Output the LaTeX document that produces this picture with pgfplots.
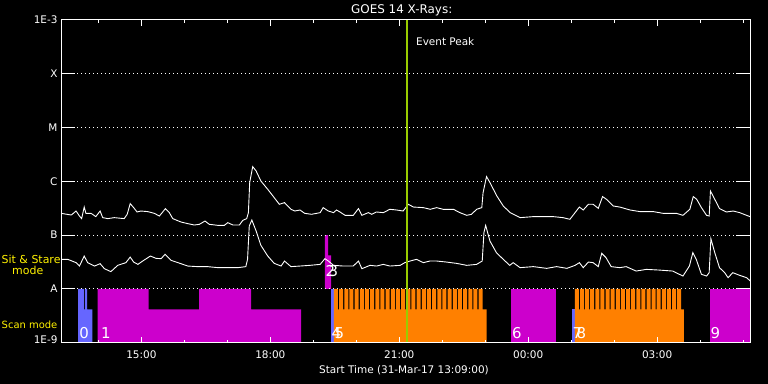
\documentclass[border=0pt]{standalone}
\usepackage{pgfplots}
\pgfplotsset{compat=1.18}
\usepackage{fontspec}
\setmainfont{DejaVu Sans}
\definecolor{obsblue}{RGB}{102,102,255}
\definecolor{obsmag}{RGB}{204,0,204}
\definecolor{obsorange}{RGB}{255,128,0}
\definecolor{peakgreen}{RGB}{153,204,0}
\begin{document}
\begin{tikzpicture}
\fill[black] (0,0) rectangle (768bp,384bp);
\useasboundingbox (0,0) rectangle (768bp,384bp);
\begin{axis}[
  at={(61bp,41.3bp)}, anchor=south west,
  width=689bp, height=323bp, scale only axis,
  xmin=13.13, xmax=29.16, ymin=-9, ymax=-3,
  axis line style={white, line width=1bp},
  xtick=\empty,
  ytick={-9,-8,-7,-6,-5,-4,-3},
  yticklabels={\raisebox{6bp}{1E-9},A\hspace{10bp},B\hspace{10bp},C\hspace{10bp},M\hspace{10bp},X\hspace{10bp},\raisebox{-6bp}{1E-3}},
  tick align=inside,
  major tick length=14bp,
  tick style={white, line width=1bp},
  ymajorgrids,
  grid style={white, line width=1bp, dash pattern=on 1bp off 3bp},
  ticklabel style={white, font=\fontsize{10.5}{12}\selectfont},
  axis on top,
  clip=true,
]
% observation blocks (scan mode band: -9..-8, sit & stare band: -8..-7)
\addplot[const plot, fill=obsblue, draw=none, mark=none] coordinates {
(13.528,-9)(13.528,-8)(13.667,-8.381)(13.691,-8)(13.737,-8.381)(13.860,-9)};
\addplot[const plot, fill=obsmag, draw=none, mark=none] coordinates {
(13.984,-9)(13.984,-8)(15.170,-8.381)(16.342,-8)(17.551,-8.381)(18.714,-9)};
\addplot[const plot, fill=obsmag, draw=none, mark=none] coordinates {
(19.272,-8)(19.272,-7)(19.342,-7.377)(19.412,-8)};
\addplot[fill=obsblue, draw=none, mark=none] coordinates {
(19.412,-9)(19.412,-8)(19.481,-8)(19.481,-9)};
\addplot[const plot, fill=obsorange, draw=none, mark=none] coordinates {
(19.481,-9)
(19.481,-8)(19.574,-8.381)(19.601,-8)(19.694,-8.381)(19.721,-8)(19.814,-8.381)
(19.842,-8)(19.935,-8.381)(19.962,-8)(20.055,-8.381)(20.082,-8)(20.175,-8.381)
(20.202,-8)(20.295,-8.381)(20.322,-8)(20.415,-8.381)(20.443,-8)(20.536,-8.381)
(20.563,-8)(20.656,-8.381)(20.683,-8)(20.776,-8.381)(20.803,-8)(20.896,-8.381)
(20.923,-8)(21.016,-8.381)(21.044,-8)(21.137,-8.381)(21.164,-8)(21.257,-8.381)
(21.284,-8)(21.377,-8.381)(21.404,-8)(21.497,-8.381)(21.524,-8)(21.617,-8.381)
(21.645,-8)(21.738,-8.381)(21.765,-8)(21.858,-8.381)(21.885,-8)(21.978,-8.381)
(22.005,-8)(22.098,-8.381)(22.125,-8)(22.218,-8.381)(22.246,-8)(22.339,-8.381)
(22.366,-8)(22.459,-8.381)(22.486,-8)(22.579,-8.381)(22.606,-8)(22.699,-8.381)
(22.726,-8)(22.819,-8.381)(22.847,-8)(22.940,-8.381)
(23.033,-9)};
\addplot[fill=obsmag, draw=none, mark=none] coordinates {
(23.597,-9)(23.597,-8)(24.644,-8)(24.644,-9)};
\addplot[fill=obsblue, draw=none, mark=none] coordinates {
(25.016,-9)(25.016,-8.381)(25.086,-8.381)(25.086,-9)};
\addplot[const plot, fill=obsorange, draw=none, mark=none] coordinates {
(25.086,-9)
(25.086,-8)(25.179,-8.381)(25.205,-8)(25.298,-8.381)(25.324,-8)(25.417,-8.381)
(25.443,-8)(25.536,-8.381)(25.562,-8)(25.655,-8.381)(25.681,-8)(25.774,-8.381)
(25.800,-8)(25.893,-8.381)(25.919,-8)(26.012,-8.381)(26.038,-8)(26.131,-8.381)
(26.157,-8)(26.250,-8.381)(26.276,-8)(26.369,-8.381)(26.395,-8)(26.488,-8.381)
(26.514,-8)(26.607,-8.381)(26.633,-8)(26.726,-8.381)(26.752,-8)(26.845,-8.381)
(26.871,-8)(26.964,-8.381)(26.990,-8)(27.083,-8.381)(27.109,-8)(27.202,-8.381)
(27.228,-8)(27.321,-8.381)(27.347,-8)(27.440,-8.381)(27.466,-8)(27.559,-8.381)
(27.621,-9)};
\addplot[fill=obsmag, draw=none, mark=none] coordinates {
(28.223,-9)(28.223,-8)(29.2,-8)(29.2,-9)};
% GOES long channel (1-8 A), log10 flux
\addplot[white, line width=0.9bp, mark=none] coordinates {
(13.13,-6.597)(13.37,-6.628)(13.48,-6.554)(13.56,-6.647)(13.61,-6.695)(13.67,-6.480)(13.71,-6.597)(13.83,-6.597)(13.94,-6.658)(14.04,-6.554)(14.10,-6.677)(14.22,-6.695)(14.37,-6.677)(14.60,-6.695)(14.67,-6.615)(14.74,-6.416)(14.82,-6.491)(14.90,-6.572)(14.99,-6.554)(15.15,-6.565)(15.30,-6.597)(15.42,-6.647)(15.56,-6.509)(15.65,-6.584)(15.73,-6.695)(15.92,-6.758)(16.08,-6.788)(16.23,-6.814)(16.35,-6.801)(16.48,-6.740)(16.58,-6.801)(16.78,-6.820)(16.93,-6.820)(17.01,-6.770)(17.13,-6.814)(17.28,-6.814)(17.36,-6.727)(17.45,-6.695)(17.49,-6.584)(17.52,-6.026)(17.59,-5.729)(17.67,-5.810)(17.78,-5.996)(17.94,-6.151)(18.09,-6.305)(18.21,-6.429)(18.33,-6.398)(18.48,-6.522)(18.57,-6.554)(18.69,-6.535)(18.80,-6.597)(18.96,-6.615)(19.16,-6.584)(19.23,-6.491)(19.35,-6.554)(19.47,-6.584)(19.54,-6.535)(19.62,-6.572)(19.74,-6.634)(19.93,-6.634)(20.05,-6.509)(20.13,-6.634)(20.28,-6.584)(20.36,-6.615)(20.47,-6.572)(20.63,-6.584)(20.78,-6.522)(20.94,-6.535)(21.09,-6.554)(21.21,-6.429)(21.33,-6.480)(21.56,-6.491)(21.72,-6.522)(21.87,-6.491)(22.02,-6.522)(22.26,-6.522)(22.41,-6.584)(22.57,-6.634)(22.68,-6.615)(22.80,-6.522)(22.92,-6.491)(22.95,-6.212)(23.03,-5.914)(23.11,-6.026)(23.27,-6.275)(23.42,-6.461)(23.58,-6.584)(23.81,-6.677)(24.12,-6.658)(24.35,-6.658)(24.58,-6.658)(24.81,-6.677)(24.97,-6.708)(25.09,-6.584)(25.19,-6.480)(25.28,-6.535)(25.40,-6.429)(25.51,-6.429)(25.63,-6.504)(25.73,-6.286)(25.82,-6.336)(25.98,-6.461)(26.13,-6.480)(26.37,-6.535)(26.60,-6.565)(26.91,-6.565)(27.14,-6.597)(27.45,-6.597)(27.60,-6.634)(27.76,-6.522)(27.84,-6.286)(27.92,-6.336)(28.03,-6.491)(28.15,-6.634)(28.21,-6.647)(28.24,-6.182)(28.34,-6.336)(28.45,-6.509)(28.61,-6.572)(28.77,-6.554)(28.92,-6.584)(29.08,-6.634)(29.16,-6.658)};
% GOES short channel (0.5-4 A), log10 flux
\addplot[white, line width=0.9bp, mark=none] coordinates {
(13.13,-7.452)(13.29,-7.452)(13.48,-7.513)(13.56,-7.576)(13.67,-7.390)(13.75,-7.513)(13.91,-7.576)(14.04,-7.532)(14.14,-7.625)(14.29,-7.680)(14.45,-7.563)(14.64,-7.513)(14.74,-7.409)(14.82,-7.502)(14.92,-7.545)(15.03,-7.483)(15.21,-7.390)(15.34,-7.433)(15.46,-7.439)(15.55,-7.359)(15.69,-7.470)(15.85,-7.513)(16.08,-7.576)(16.31,-7.587)(16.54,-7.587)(16.78,-7.606)(17.01,-7.606)(17.24,-7.606)(17.43,-7.587)(17.47,-7.452)(17.51,-6.833)(17.57,-6.721)(17.67,-6.926)(17.78,-7.191)(17.94,-7.390)(18.09,-7.526)(18.25,-7.576)(18.33,-7.483)(18.48,-7.587)(18.69,-7.576)(18.92,-7.563)(19.16,-7.545)(19.27,-7.439)(19.35,-7.483)(19.47,-7.563)(19.70,-7.576)(19.93,-7.576)(20.05,-7.483)(20.13,-7.625)(20.32,-7.563)(20.47,-7.576)(20.63,-7.545)(20.78,-7.576)(21.02,-7.563)(21.13,-7.513)(21.25,-7.483)(21.40,-7.452)(21.56,-7.513)(21.71,-7.483)(21.87,-7.483)(22.10,-7.502)(22.33,-7.526)(22.57,-7.563)(22.80,-7.545)(22.93,-7.483)(22.97,-6.955)(23.01,-6.820)(23.11,-7.112)(23.26,-7.327)(23.42,-7.452)(23.57,-7.563)(23.65,-7.513)(23.81,-7.606)(24.12,-7.587)(24.43,-7.619)(24.66,-7.587)(24.90,-7.619)(25.09,-7.563)(25.19,-7.513)(25.28,-7.606)(25.40,-7.502)(25.51,-7.513)(25.63,-7.587)(25.71,-7.340)(25.81,-7.420)(25.93,-7.587)(26.13,-7.606)(26.28,-7.587)(26.51,-7.669)(26.75,-7.638)(27.05,-7.651)(27.36,-7.669)(27.60,-7.762)(27.75,-7.576)(27.83,-7.327)(27.91,-7.452)(28.03,-7.730)(28.15,-7.762)(28.21,-7.699)(28.25,-7.067)(28.34,-7.327)(28.45,-7.606)(28.57,-7.699)(28.65,-7.792)(28.76,-7.699)(28.92,-7.749)(29.08,-7.792)(29.17,-7.855)};
% event peak
\addplot[peakgreen, line width=2bp, mark=none] coordinates {(21.179,-9)(21.179,-3)};
\node[white, anchor=base west, inner sep=0, font=\fontsize{10.5}{12}\selectfont] at (axis cs:21.179,-3.487) [xshift=9bp] {Event Peak};
% observation numbers
\begin{scope}[every node/.style={white, anchor=base west, inner sep=0, font=\fontsize{15}{16}\selectfont}]
\node at (axis cs:13.55,-8.914) {0};
\node at (axis cs:14.06,-8.914) {1};
\node at (axis cs:19.28,-7.773) {2};
\node at (axis cs:19.35,-7.773) {3};
\node at (axis cs:19.42,-8.914) {4};
\node at (axis cs:19.49,-8.914) {5};
\node at (axis cs:23.62,-8.914) {6};
\node at (axis cs:25.03,-8.914) {7};
\node at (axis cs:25.12,-8.914) {8};
\node at (axis cs:28.24,-8.914) {9};
\end{scope}
\end{axis}
% time axis ticks and labels
\begin{axis}[
  at={(61bp,41.3bp)}, anchor=south west,
  width=689bp, height=323bp, scale only axis,
  xmin=13.13, xmax=29.16, ymin=-9, ymax=-3,
  axis line style={white, line width=1bp},
  ytick=\empty,
  xtick={15,18,21,24,27},
  xticklabels={15:00,18:00,21:00,00:00,03:00},
  minor xtick={14,16,17,19,20,22,23,25,26,28,29},
  tick align=inside,
  major tick length=6bp, minor tick length=3bp,
  tick style={white, line width=1bp},
  ticklabel style={white, font=\fontsize{10.5}{12}\selectfont},
  xticklabel style={yshift=-5bp},
  xlabel={Start Time (31-Mar-17 13:09:00)},
  xlabel style={white, font=\fontsize{10.5}{12}\selectfont, at={(0.5,0)}, anchor=base, yshift=-30.3bp, xshift=-1.5bp},
]
\end{axis}
\node[white, anchor=base, inner sep=0, font=\fontsize{12}{14}\selectfont] at (401.7bp,370bp) {GOES 14 X-Rays:};
\node[yellow, anchor=base west, inner sep=0, font=\fontsize{11}{12}\selectfont] at (1.5bp,120.7bp) {Sit \& Stare};
\node[yellow, anchor=base west, inner sep=0, font=\fontsize{11}{12}\selectfont] at (12bp,109bp) {mode};
\node[yellow, anchor=base west, inner sep=0, font=\fontsize{10}{12}\selectfont] at (1.5bp,55.7bp) {Scan mode};
\end{tikzpicture}
\end{document}
